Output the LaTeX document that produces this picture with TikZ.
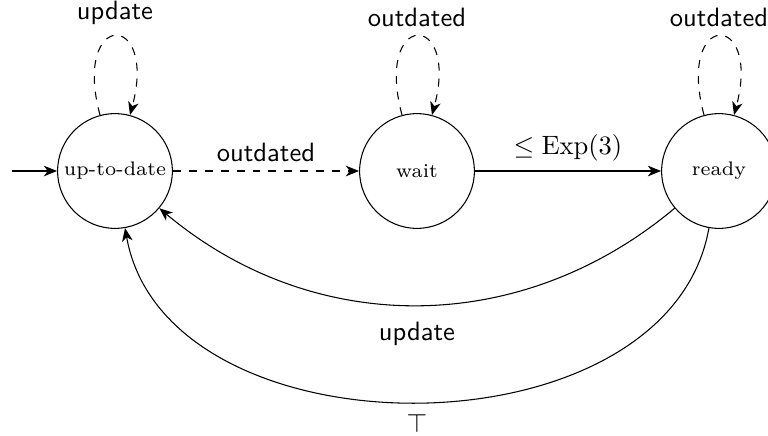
\documentclass[tikz,border=0pt]{standalone}
\usetikzlibrary{arrows.meta}
\begin{document}
\begin{tikzpicture}[
  >={Stealth[length=5pt,width=4pt,inset=1.5pt]},
  state/.style={circle,draw,minimum size=1.52cm,inner sep=0pt,font=\fontsize{7.4pt}{9pt}\selectfont},
  lbl/.style={font=\sffamily},
  every loop/.style={looseness=9.3}
]
\useasboundingbox (-1.523,-3.497) rectangle (8.649,2.265);

\node[state] (utd) at (0,0) {up-to-date};
\node[state] (wait) at (4,0) {wait};
\node[state] (ready) at (8,0) {ready};
\coordinate (init) at (-1.36,0);

\draw[->] (init) -- (utd);
\draw[->,dashed] (utd) edge[loop above] node[lbl,above=1pt] {update} (utd);
\draw[->,dashed] (wait) edge[loop above] node[lbl,above] {outdated} (wait);
\draw[->,dashed] (ready) edge[loop above] node[lbl,above] {outdated} (ready);

\draw[->,dashed] (utd) -- node[lbl,above] {outdated} (wait);
\draw[->] (wait) -- node[above] {$\leq \mathrm{Exp}(3)$} (ready);

\draw[->] (ready) to[bend left=40] node[lbl,below=3pt] {update} (utd);
\draw[->] (ready) to[out=260,in=-80,looseness=1.035] node[below=1pt] {$\top$} (utd);
\end{tikzpicture}
\end{document}
